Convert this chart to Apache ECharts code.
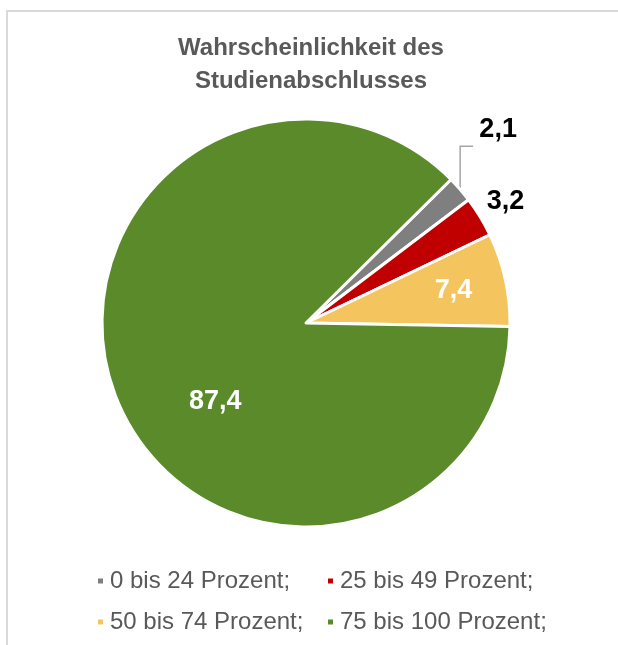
<!DOCTYPE html>
<html>
<head>
<meta charset="utf-8">
<script src="https://cdn.jsdelivr.net/npm/echarts@6/dist/echarts.min.js"></script>
<style>
html, body { margin: 0; padding: 0; background: #ffffff; }
#frame { position: absolute; left: 6px; top: 10px; width: 612px; height: 635px;
  border-top: 2px solid #d9d9d9; border-left: 2px solid #d9d9d9; box-sizing: border-box; }
#chart { position: absolute; left: 0; top: 0; width: 618px; height: 645px; }
</style>
</head>
<body>
<div id="frame"></div>
<div id="chart"></div>
<script>
// ---- data ----
const titleLines = ['Wahrscheinlichkeit des', 'Studienabschlusses'];
const categories = ['0 bis 24 Prozent;', '25 bis 49 Prozent;', '50 bis 74 Prozent;', '75 bis 100 Prozent;'];
const values = [2.1, 3.2, 7.4, 87.4];
const colors = ['#7f7f7f', '#c00000', '#f4c55f', '#5a8a2a'];

// ---- layout config ----
const FONT = 'Liberation Sans, Arial, sans-serif';
const CX = 306, CY = 323, R = 204, START = 44.7;
const labelColors = ['#000000', '#000000', '#ffffff', '#ffffff'];
// label placement: radius fraction and angle (deg, math convention); null angle = slice mid angle
const labelPlace = [null, { r: 1.146, a: null }, { r: 0.74, a: null }, { r: 0.59, a: 221 }];

const total = values.reduce((s, v) => s + v, 0);
function midAngle(i) {
  let acc = 0;
  for (let k = 0; k < i; k++) acc += values[k];
  return START - (acc + values[i] / 2) / total * 360;
}

const legendBase = {
  orient: 'vertical', top: 564, itemGap: 17,
  itemWidth: 7, itemHeight: 7, icon: 'rect', selectedMode: false,
  textStyle: { fontFamily: FONT, fontSize: 24, color: '#595959', padding: [0, 0, 0, 1] }
};

const chart = echarts.init(document.getElementById('chart'));
chart.setOption({
  animation: false,
  title: {
    text: titleLines.join('\n'),
    left: 306,
    textAlign: 'center',
    top: 27,
    textStyle: { fontFamily: FONT, fontSize: 24, fontWeight: 'bold', color: '#595959', lineHeight: 33 }
  },
  legend: [
    Object.assign({}, legendBase, { data: [categories[0], categories[2]], left: 91 }),
    Object.assign({}, legendBase, { data: [categories[1], categories[3]], left: 321 })
  ],
  series: [{
    type: 'pie',
    center: [CX, CY],
    radius: [0, R],
    startAngle: START,
    clockwise: true,
    avoidLabelOverlap: false,
    itemStyle: { borderColor: '#ffffff', borderWidth: 3 },
    label: {
      show: true,
      position: 'outside',
      fontFamily: FONT, fontSize: 27, fontWeight: 'bold',
      formatter: p => String(p.value).replace('.', ',')
    },
    labelLine: { show: false },
    emphasis: { disabled: true },
    data: categories.map((c, i) => ({
      name: c,
      value: values[i],
      itemStyle: { color: colors[i] },
      label: { color: labelColors[i] },
      labelLine: i === 0 ? { show: true, length: 20, length2: 12, lineStyle: { color: '#a6a6a6', width: 1.5 } } : { show: false }
    })),
    labelLayout: function (p) {
      const i = p.dataIndex;
      if (i === 0 && p.labelLinePoints) {
        const a = p.labelLinePoints[0];
        const turn = [a[0], a[1] - 43];
        const end = [a[0] + 13, a[1] - 43];
        return { x: end[0] + 25, y: end[1] - 17, align: 'center', verticalAlign: 'middle',
                 labelLinePoints: [a, turn, end] };
      }
      const pl = labelPlace[i];
      if (!pl) return {};
      const ang = (pl.a == null ? midAngle(i) : pl.a) * Math.PI / 180;
      return {
        x: CX + R * pl.r * Math.cos(ang),
        y: CY - R * pl.r * Math.sin(ang),
        align: 'center', verticalAlign: 'middle'
      };
    }
  }]
});
</script>
</body>
</html>
